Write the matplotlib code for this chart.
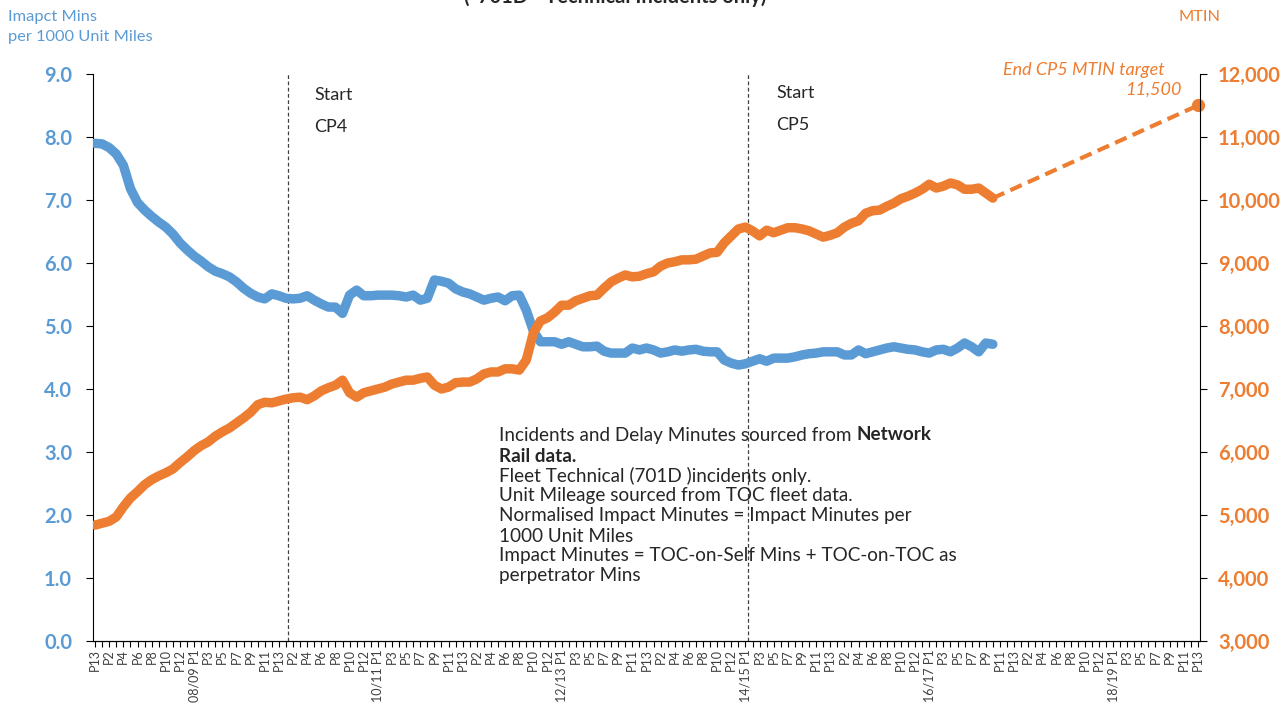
import matplotlib
matplotlib.use('Agg')
import matplotlib.pyplot as plt
import numpy as np

plt.rcParams['font.family'] = ['Lato', 'DejaVu Sans']

blue = '#5B9BD5'
orange = '#ED7D31'

# categories: 06/07 P13, then P1..P13 for each year 07/08 .. 18/19
years = ['07/08', '08/09', '09/10', '10/11', '11/12', '12/13',
         '13/14', '14/15', '15/16', '16/17', '17/18', '18/19']
periods = ['P13'] + ['P%d' % p for y in years for p in range(1, 14)]
period_year = [''] + [y for y in years for p in range(1, 14)]

# normalised impact minutes per 1000 unit miles (left axis)
impact_mins = [
    7.90, 7.89, 7.83, 7.73, 7.55, 7.18, 6.96, 6.84, 6.74, 6.65,
    6.57, 6.46, 6.32, 6.21, 6.11, 6.03, 5.94, 5.87, 5.83, 5.78,
    5.70, 5.60, 5.52, 5.46, 5.43, 5.51, 5.48, 5.44, 5.43, 5.44,
    5.48, 5.41, 5.35, 5.30, 5.30, 5.20, 5.49, 5.57, 5.48, 5.48,
    5.49, 5.49, 5.49, 5.48, 5.46, 5.49, 5.41, 5.44, 5.73, 5.71,
    5.68, 5.59, 5.54, 5.51, 5.46, 5.41, 5.44, 5.46, 5.40, 5.48,
    5.49, 5.25, 4.92, 4.75, 4.75, 4.75, 4.71, 4.75, 4.71, 4.67,
    4.67, 4.68, 4.60, 4.57, 4.57, 4.57, 4.65, 4.62, 4.65, 4.62,
    4.57, 4.59, 4.62, 4.60, 4.62, 4.63, 4.60, 4.59, 4.59, 4.46,
    4.41, 4.38, 4.40, 4.44, 4.48, 4.44, 4.49, 4.49, 4.49, 4.51,
    4.54, 4.56, 4.57, 4.59, 4.59, 4.59, 4.54, 4.54, 4.62, 4.56,
    4.59, 4.62, 4.65, 4.67, 4.65, 4.63, 4.62, 4.59, 4.57, 4.62,
    4.63, 4.59, 4.65, 4.73, 4.67, 4.59, 4.73, 4.71,
]

# MTIN (right axis)
mtin = [
    4840, 4870, 4900, 4970, 5130, 5270, 5370, 5480, 5560, 5620,
    5670, 5730, 5830, 5920, 6020, 6100, 6160, 6250, 6320, 6380,
    6460, 6540, 6630, 6750, 6790, 6780, 6810, 6840, 6860, 6870,
    6830, 6890, 6970, 7020, 7060, 7140, 6940, 6870, 6940, 6970,
    7000, 7030, 7080, 7110, 7140, 7140, 7170, 7190, 7060, 7000,
    7030, 7100, 7110, 7110, 7160, 7240, 7270, 7270, 7320, 7320,
    7300, 7460, 7890, 8080, 8130, 8220, 8330, 8330, 8400, 8440,
    8480, 8490, 8600, 8700, 8760, 8810, 8780, 8790, 8830, 8860,
    8950, 9000, 9020, 9050, 9050, 9060, 9110, 9160, 9170, 9320,
    9430, 9540, 9570, 9510, 9430, 9520, 9480, 9520, 9560, 9560,
    9540, 9510, 9460, 9410, 9440, 9480, 9570, 9630, 9670, 9790,
    9830, 9840, 9900, 9950, 10020, 10060, 10110, 10170, 10250, 10190,
    10220, 10270, 10240, 10170, 10170, 10190, 10110, 10030,
]
mtin_target = 11500

cp4_start = 27
cp5_start = 92

fig = plt.figure(figsize=(12.86, 7.04), dpi=100)
ax = fig.add_axes([0.0723, 0.0895, 0.8608, 0.8054])

x = np.arange(len(impact_mins))
n = len(periods)
ax.set_xlim(-0.3, n - 1 + 0.3)
ax.set_ylim(0, 9)

ax.plot(x, impact_mins, color=blue, lw=6.8,
        solid_capstyle='round', solid_joinstyle='round', zorder=3)

for cp in (cp4_start, cp5_start):
    ax.axvline(cp + 0.35, color='#404040', lw=0.9, ls=(0, (3, 2)), zorder=1)

labels = []
for i, p in enumerate(periods):
    if i % 2:
        labels.append('')
    elif p == 'P1':
        labels.append(period_year[i] + ' P1')
    else:
        labels.append(p)
ax.set_xticks(range(n))
ax.set_xticklabels(labels, rotation=90, fontsize=9, color='#404040')
ax.tick_params(axis='x', length=4, direction='out', pad=2)

ax.set_yticks(np.arange(0, 9.1, 1))
ax.set_yticklabels(['%.1f' % v for v in np.arange(0, 9.1, 1)],
                   fontsize=14.5, fontweight='bold', color=blue)
ax.tick_params(axis='y', length=5, direction='out', pad=10)
ax.spines['top'].set_visible(False)
ax.spines['right'].set_visible(False)

ax2 = ax.twinx()
ax2.set_ylim(3000, 12000)
ax2.plot(x, mtin, color=orange, lw=6.8,
         solid_capstyle='round', solid_joinstyle='round', zorder=3)
ax2.plot([x[-1], n - 1], [mtin[-1], mtin_target], color=orange, lw=3,
         ls=(0, (3, 1.6)))
ax2.plot([n - 1], [mtin_target], 'o', color=orange, ms=8.5, clip_on=False)
ax2.set_yticks(np.arange(3000, 12001, 1000))
ax2.set_yticklabels(['{:,}'.format(v) for v in range(3000, 12001, 1000)],
                    fontsize=14.5, fontweight='bold', color=orange)
ax2.tick_params(axis='y', length=5, direction='out', pad=8)
ax2.spines['top'].set_visible(False)
ax2.spines['left'].set_visible(False)

# headings and notes
fig.text(615 / 1286, 1 - 7 / 704, '(*701D - Technical Incidents only)',
         ha='center', va='bottom', fontsize=14.5, fontweight='bold', color='#262626')
fig.text(8 / 1286, 1 - 17 / 704, 'Imapct Mins', ha='left', va='center',
         fontsize=11.8, color=blue)
fig.text(8 / 1286, 1 - 37 / 704, 'per 1000 Unit Miles', ha='left', va='center',
         fontsize=11.8, color=blue)
fig.text(1178 / 1286, 1 - 17 / 704, 'MTIN', ha='left', va='center',
         fontsize=11.8, color=orange)

fig.text(314 / 1286, 1 - 95 / 704, 'Start', ha='left', va='center', fontsize=13, color='#262626')
fig.text(314 / 1286, 1 - 127 / 704, 'CP4', ha='left', va='center', fontsize=13, color='#262626')
fig.text(776 / 1286, 1 - 93 / 704, 'Start', ha='left', va='center', fontsize=13, color='#262626')
fig.text(776 / 1286, 1 - 125 / 704, 'CP5', ha='left', va='center', fontsize=13, color='#262626')

fig.text(1165 / 1286, 1 - 70 / 704, 'End CP5 MTIN target', ha='right', va='center',
         fontsize=13, style='italic', color=orange)
fig.text(1182 / 1286, 1 - 90 / 704, '{:,}'.format(mtin_target), ha='right', va='center',
         fontsize=13, style='italic', color=orange)

note_x = 499 / 1286
note_fs = 13.6
first = fig.text(note_x, 1 - 435 / 704, 'Incidents and Delay Minutes sourced from ',
                 ha='left', va='center', fontsize=note_fs, color='#262626')
renderer = fig.canvas.get_renderer()
bb = first.get_window_extent(renderer)
fig.text(bb.x1 / fig.bbox.width, 1 - 435 / 704, 'Network', ha='left', va='center',
         fontsize=note_fs, fontweight='bold', color='#262626')
fig.text(note_x, 1 - 456 / 704, 'Rail data.', ha='left', va='center',
         fontsize=note_fs, fontweight='bold', color='#262626')
note_lines = ['Fleet Technical (701D )incidents only.',
              'Unit Mileage sourced from TOC fleet data.',
              'Normalised Impact Minutes = Impact Minutes per',
              '1000 Unit Miles',
              'Impact Minutes = TOC-on-Self Mins + TOC-on-TOC as',
              'perpetrator Mins']
for k, line in enumerate(note_lines):
    fig.text(note_x, 1 - (476 + 20 * k) / 704, line, ha='left', va='center',
             fontsize=note_fs, color='#262626')

plt.savefig('out.png', dpi=100)
plt.close()
